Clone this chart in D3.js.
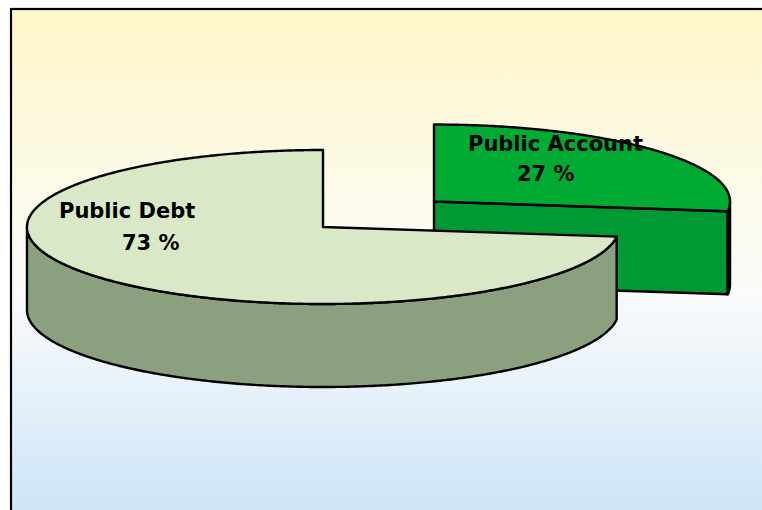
<!DOCTYPE html>
<html>
<head>
<meta charset="utf-8">
<script src="https://cdn.jsdelivr.net/npm/d3@7"></script>
<style>
  html, body { margin: 0; padding: 0; background: #fff; }
  svg { display: block; }
</style>
</head>
<body>
<div id="chart"></div>
<script>
// data
const categories = ["Public Debt", "Public Account"];
const shares = [73, 27];
const shareLabels = ["73 %", "27 %"];

// styling per slice
const topColors = ["#D9E9C8", "#00AA33"];
const sideColors = ["#8BA07E", "#009933"];
const explode = [0, 0.5];

// label placement (start x, first baseline, second baseline)
const labelPos = [
  {x1: 59, y1: 218, x2: 122, y2: 250},
  {x1: 468, y1: 151, x2: 517, y2: 181}
];

const W = 762, H = 510;
const cx = 323, cy = 227, rx = 296, ry = 77, depth = 83;

const svg = d3.select("#chart").append("svg")
  .attr("width", W)
  .attr("height", H);

const defs = svg.append("defs");
const grad = defs.append("linearGradient")
  .attr("id", "bg")
  .attr("x1", 0).attr("y1", 0).attr("x2", 0).attr("y2", 1);
grad.append("stop").attr("offset", "0%").attr("stop-color", "#FFF7C9");
grad.append("stop").attr("offset", "55%").attr("stop-color", "#FAFBFB");
grad.append("stop").attr("offset", "100%").attr("stop-color", "#C9E3F7");

svg.append("rect")
  .attr("x", 11).attr("y", 9)
  .attr("width", W + 20).attr("height", H + 10)
  .attr("fill", "url(#bg)")
  .attr("stroke", "#000")
  .attr("stroke-width", 2.2);

// angles run counterclockwise from 12 o'clock, like the original
const pie = d3.pie().sort(null)
  .startAngle(2 * Math.PI)
  .endAngle(0);
const arcs = pie(shares);

// ellipse point for d3 angle (clockwise from 12 o'clock)
const px = (ox, a) => ox + rx * Math.sin(a);
const py = (oy, a, dz) => oy - ry * Math.cos(a) + dz;

function arcPoints(ox, oy, a0, a1, dz) {
  const n = Math.max(2, Math.ceil(Math.abs(a1 - a0) / 0.01));
  return d3.range(n + 1).map(i => {
    const a = a0 + (a1 - a0) * i / n;
    return [px(ox, a), py(oy, a, dz)];
  });
}

const line = d3.line();

const slices = arcs.map((d, i) => {
  const lo = Math.min(d.startAngle, d.endAngle);
  const hi = Math.max(d.startAngle, d.endAngle);
  const mid = (lo + hi) / 2;
  const ox = cx + explode[i] * rx * Math.sin(mid);
  const oy = cy - explode[i] * ry * Math.cos(mid);
  return {i, lo, hi, ox, oy};
});

// back slice first (the exploded one), then the big one
const order = [1, 0];
const sw = 2.4;

order.forEach(i => {
  const s = slices[i];
  const g = svg.append("g");

  // radial cut faces that face the viewer
  [[s.hi, Math.sin(s.hi) > 0.01], [s.lo, -Math.sin(s.lo) > 0.01]].forEach(([a, vis]) => {
    if (!vis) return;
    const pts = [
      [s.ox, s.oy], [px(s.ox, a), py(s.oy, a, 0)],
      [px(s.ox, a), py(s.oy, a, depth)], [s.ox, s.oy + depth]
    ];
    g.append("path")
      .attr("d", line(pts) + "Z")
      .attr("fill", sideColors[i])
      .attr("stroke", "#000")
      .attr("stroke-width", sw)
      .attr("stroke-linejoin", "round");
  });

  // outer wall, front half only
  const w0 = Math.max(s.lo, Math.PI / 2);
  const w1 = Math.min(s.hi, Math.PI * 1.5);
  if (w1 > w0) {
    const top = arcPoints(s.ox, s.oy, w0, w1, 0);
    const bot = arcPoints(s.ox, s.oy, w1, w0, depth);
    g.append("path")
      .attr("d", line(top.concat(bot)) + "Z")
      .attr("fill", sideColors[i])
      .attr("stroke", "#000")
      .attr("stroke-width", sw)
      .attr("stroke-linejoin", "round");
  }

  // top face
  const pts = [[s.ox, s.oy]].concat(arcPoints(s.ox, s.oy, s.lo, s.hi, 0));
  g.append("path")
    .attr("d", line(pts) + "Z")
    .attr("fill", topColors[i])
    .attr("stroke", "#000")
    .attr("stroke-width", sw)
    .attr("stroke-linejoin", "round");
});

// labels
const font = "Tahoma, 'DejaVu Sans', Verdana, sans-serif";
categories.forEach((c, i) => {
  const p = labelPos[i];
  const t = svg.append("g")
    .attr("font-family", font)
    .attr("font-size", 21)
    .attr("font-weight", "bold")
    .attr("fill", "#000");
  t.append("text").attr("x", p.x1).attr("y", p.y1).text(c);
  t.append("text").attr("x", p.x2).attr("y", p.y2).text(shareLabels[i]);
});
</script>
</body>
</html>
